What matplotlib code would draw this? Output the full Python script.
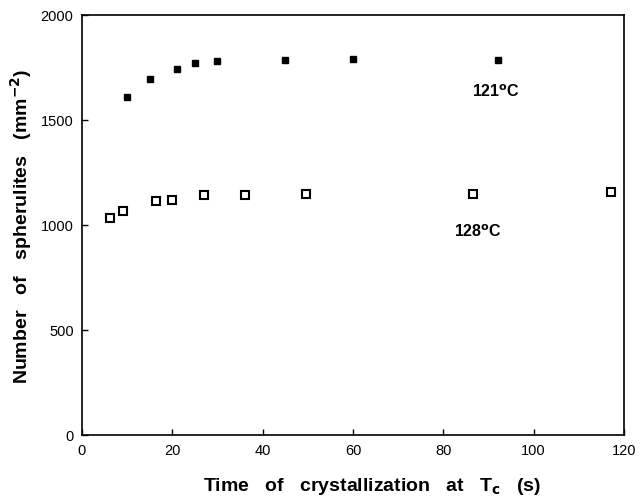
import matplotlib
matplotlib.use("Agg")
import matplotlib.pyplot as plt

plt.rcParams['font.family'] = ['Liberation Sans', 'DejaVu Sans']

t_121 = [10, 15, 21, 25, 30, 45, 60, 92]
n_121 = [1610, 1695, 1740, 1770, 1778, 1784, 1790, 1786]

t_128 = [6.3, 9.1, 16.4, 20.0, 27, 36, 49.7, 86.5, 117.2]
n_128 = [1035, 1068, 1115, 1118, 1143, 1143, 1148, 1148, 1155]

xticks = [0, 20, 40, 60, 80, 100, 120]
yticks = [0, 500, 1000, 1500, 2000]

fig = plt.figure(figsize=(6.4, 5.02), dpi=100)
ax = fig.add_axes([0.128, 0.1315, 0.847, 0.837])

ax.plot(t_121, n_121, linestyle='none', marker='s', markersize=5,
        color='black')
ax.plot(t_128, n_128, linestyle='none', marker='s', markersize=6,
        markerfacecolor='white', markeredgecolor='black', markeredgewidth=1.5)

ax.set_xlim(0, 120)
ax.set_ylim(0, 2000)
ax.set_xticks(xticks)
ax.set_yticks(yticks)
ax.tick_params(direction='in', length=4, width=1, labelsize=10.5,
               top=False, right=False, pad=6)
for s in ax.spines.values():
    s.set_linewidth(1.2)

ax.text(91.6, 1638, '121$^{\\mathbf{o}}$C', ha='center', va='center',
        fontsize=11.5, fontweight='bold')
ax.text(87.6, 971, '128$^{\\mathbf{o}}$C', ha='center', va='center',
        fontsize=11.5, fontweight='bold')

ax.set_xlabel('Time   of   crystallization   at   T$_{\\mathbf{c}}$   (s)',
              fontsize=14, fontweight='bold', labelpad=17)
ax.xaxis.set_label_coords(0.535, -0.095)
ax.set_ylabel('Number   of   spherulites   (mm$^{\\mathbf{-2}}$)',
              fontsize=14, fontweight='bold', labelpad=5)

fig.savefig('out.png', dpi=100)
